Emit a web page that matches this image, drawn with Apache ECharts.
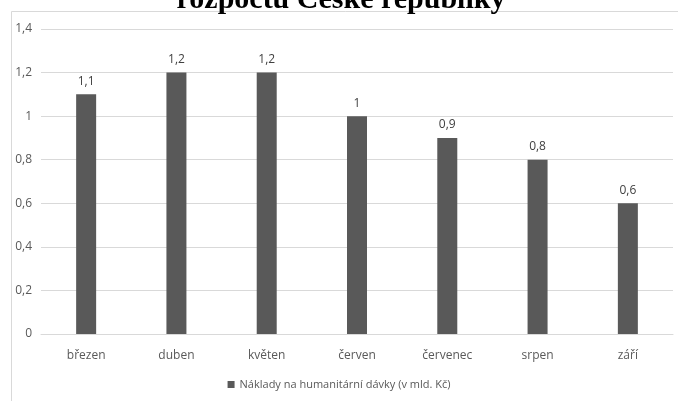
<!DOCTYPE html>
<html><head><meta charset="utf-8">
<script src="https://cdn.jsdelivr.net/npm/echarts@6/dist/echarts.min.js"></script>
<style>html,body{margin:0;padding:0;background:#fff}#c{width:678px;height:401px}</style>
</head><body><div id="c"></div>
<script>
var titleText = 'rozpočtu České republiky';
var categories = ['březen','duben','květen','červen','červenec','srpen','září'];
var seriesName = 'Náklady na humanitární dávky (v mld. Kč)';
var values = [1.1, 1.2, 1.2, 1.0, 0.9, 0.8, 0.6];
var yTicks = [0, 0.2, 0.4, 0.6, 0.8, 1.0, 1.2, 1.4];

function fmt(v){ return String(+(+v).toFixed(2)).replace('.', ','); }

var chart = echarts.init(document.getElementById('c'));
chart.setOption({
  animation: false,
  backgroundColor: '#fff',
  graphic: [
    {type:'rect', shape:{x:11.5, y:11.5, width:700, height:420}, style:{fill:'none', stroke:'#d9d9d9', lineWidth:1}, z:-1},
    {type:'text', x:341, y:15, style:{text:titleText, font:'bold 30px "Liberation Serif", "Times New Roman", serif', fill:'#000', textAlign:'center', textVerticalAlign:'bottom'}}
  ],
  grid: {left:41, right:5, top:29, bottom:67, containLabel:false},
  legend: {
    data:[seriesName], left:'center', top:374, itemWidth:7, itemHeight:7, icon:'rect', itemGap:5,
    textStyle:{color:'#595959', fontSize:11, fontFamily:'"Open Sans", "Noto Sans", sans-serif'}
  },
  xAxis: {
    type:'category', data:categories,
    axisLine:{show:true, lineStyle:{color:'#d9d9d9'}}, axisTick:{show:false},
    axisLabel:{color:'#595959', fontSize:12, margin:16, fontFamily:'"Open Sans", "Noto Sans", sans-serif'}
  },
  yAxis: {
    type:'value', min:yTicks[0], max:yTicks[yTicks.length-1], interval:0.2,
    axisLine:{show:false}, axisTick:{show:false},
    splitLine:{lineStyle:{color:'#d9d9d9'}},
    axisLabel:{color:'#595959', fontSize:12, margin:9, formatter:fmt, fontFamily:'"Open Sans", "Noto Sans", sans-serif'}
  },
  series: [{
    name:seriesName, type:'bar', data:values, barWidth:20,
    itemStyle:{color:'#595959'},
    label:{show:true, position:'top', distance:7, color:'#404040', fontSize:12, formatter:function(p){return fmt(p.value);}, fontFamily:'"Open Sans", "Noto Sans", sans-serif'}
  }]
});
</script></body></html>
